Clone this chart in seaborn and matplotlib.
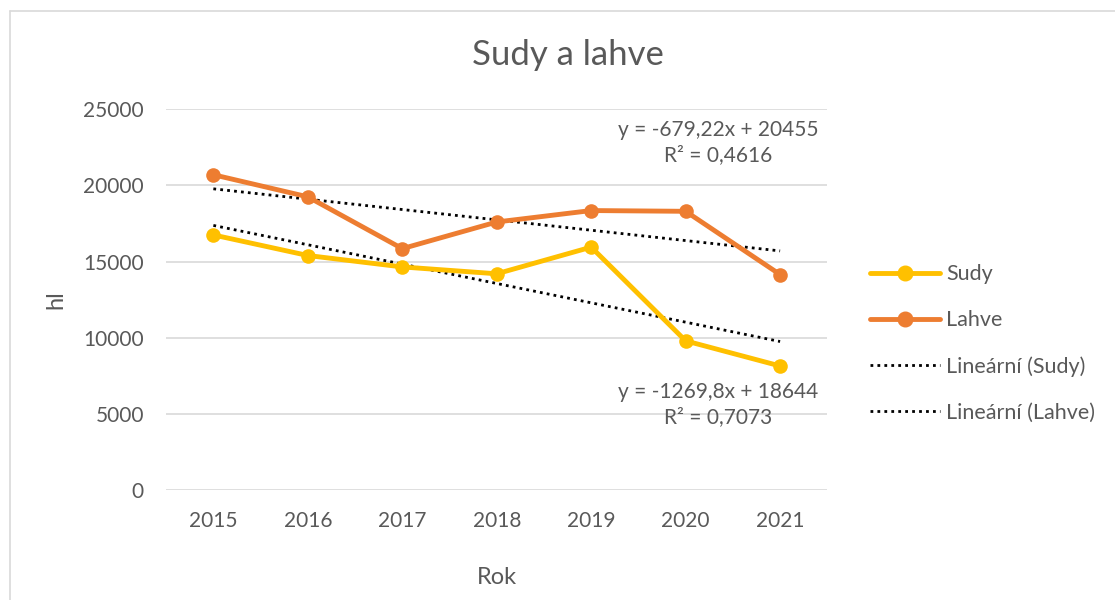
import pandas as pd
import seaborn as sns
import matplotlib.pyplot as plt
from matplotlib.lines import Line2D

# data
years = ["2015", "2016", "2017", "2018", "2019", "2020", "2021"]
sudy = [16750, 15400, 14650, 14200, 15950, 9800, 8150]
lahve = [20700, 19250, 15850, 17600, 18350, 18300, 14150]

# trendline coefficients as printed on the chart
sudy_trend = (-1269.8, 18644)
lahve_trend = (-679.22, 20455)
sudy_eq = "y = -1269,8x + 18644\nR² = 0,7073"
lahve_eq = "y = -679,22x + 20455\nR² = 0,4616"

sns.set_theme(style="white")
plt.rcParams['font.family'] = ['Lato', 'DejaVu Sans']

df = pd.DataFrame({
    "pos": list(range(len(years))) * 2,
    "hl": sudy + lahve,
    "serie": ["Sudy"] * len(years) + ["Lahve"] * len(years),
})
df_trend = pd.DataFrame({
    "pos": list(range(len(years))) * 2,
    "hl": [sudy_trend[1] + sudy_trend[0] * (i + 1) for i in range(len(years))]
          + [lahve_trend[1] + lahve_trend[0] * (i + 1) for i in range(len(years))],
    "serie": ["Lineární (Sudy)"] * len(years) + ["Lineární (Lahve)"] * len(years),
})

colors = {"Sudy": "#FFC000", "Lahve": "#ED7D31"}
text_col = "#595959"
dots = (0, (1, 1.5))

fig = plt.figure(figsize=(11.15, 6), dpi=100)
ax = fig.add_axes([0.149, 0.183, 0.593, 0.635])

sns.lineplot(data=df_trend, x="pos", y="hl", hue="serie",
             palette={"Lineární (Sudy)": "black", "Lineární (Lahve)": "black"},
             linestyle=dots, linewidth=2, legend=False, ax=ax)
sns.lineplot(data=df, x="pos", y="hl", hue="serie", palette=colors,
             marker="o", markersize=10.5, markeredgewidth=0, linewidth=3.5,
             legend=False, ax=ax)

ax.set_xlim(-0.5, len(years) - 0.5)
ax.set_ylim(0, 25000)
ax.set_yticks(range(0, 25001, 5000))
ax.set_xticks(range(len(years)))
ax.set_xticklabels(years)
ax.xaxis.set_tick_params(length=0, labelsize=15, labelcolor=text_col, pad=15)
ax.yaxis.set_tick_params(length=0, labelsize=15, labelcolor=text_col, pad=16)
ax.yaxis.grid(True, color="#D9D9D9", linewidth=1.2)
ax.set_axisbelow(True)
for s in ax.spines.values():
    s.set_visible(False)

ax.set_xlabel("Rok", fontsize=17, color=text_col, labelpad=26)
ax.set_ylabel("hl", fontsize=17, color=text_col, labelpad=12)
fig.text(0.509, 0.908, "Sudy a lahve", ha="center", va="center",
         fontsize=25, color=text_col)

ax.text(0.835, 0.972, lahve_eq, transform=ax.transAxes, ha="center",
        va="top", fontsize=15, color=text_col, linespacing=1.3)
ax.text(0.835, 0.283, sudy_eq, transform=ax.transAxes, ha="center",
        va="top", fontsize=15, color=text_col, linespacing=1.3)

handles = [
    Line2D([], [], color=colors["Sudy"], linewidth=3.5, marker="o", markersize=10.5),
    Line2D([], [], color=colors["Lahve"], linewidth=3.5, marker="o", markersize=10.5),
    Line2D([], [], color="black", linewidth=2, linestyle=dots),
    Line2D([], [], color="black", linewidth=2, linestyle=dots),
]
labels = ["Sudy", "Lahve", "Lineární (Sudy)", "Lineární (Lahve)"]
leg = fig.legend(handles, labels, loc="center left", bbox_to_anchor=(0.780, 0.4275),
                 frameon=False, fontsize=15.5, labelspacing=1.2, borderpad=0,
                 borderaxespad=0, handlelength=3.25, handletextpad=0.3)
for t in leg.get_texts():
    t.set_color(text_col)

# chart border
fig.add_artist(Line2D([0.009, 0.009], [0, 0.982], color="#D9D9D9", linewidth=1.2))
fig.add_artist(Line2D([0.009, 1], [0.982, 0.982], color="#D9D9D9", linewidth=1.2))

fig.savefig("out.png", dpi=100)
